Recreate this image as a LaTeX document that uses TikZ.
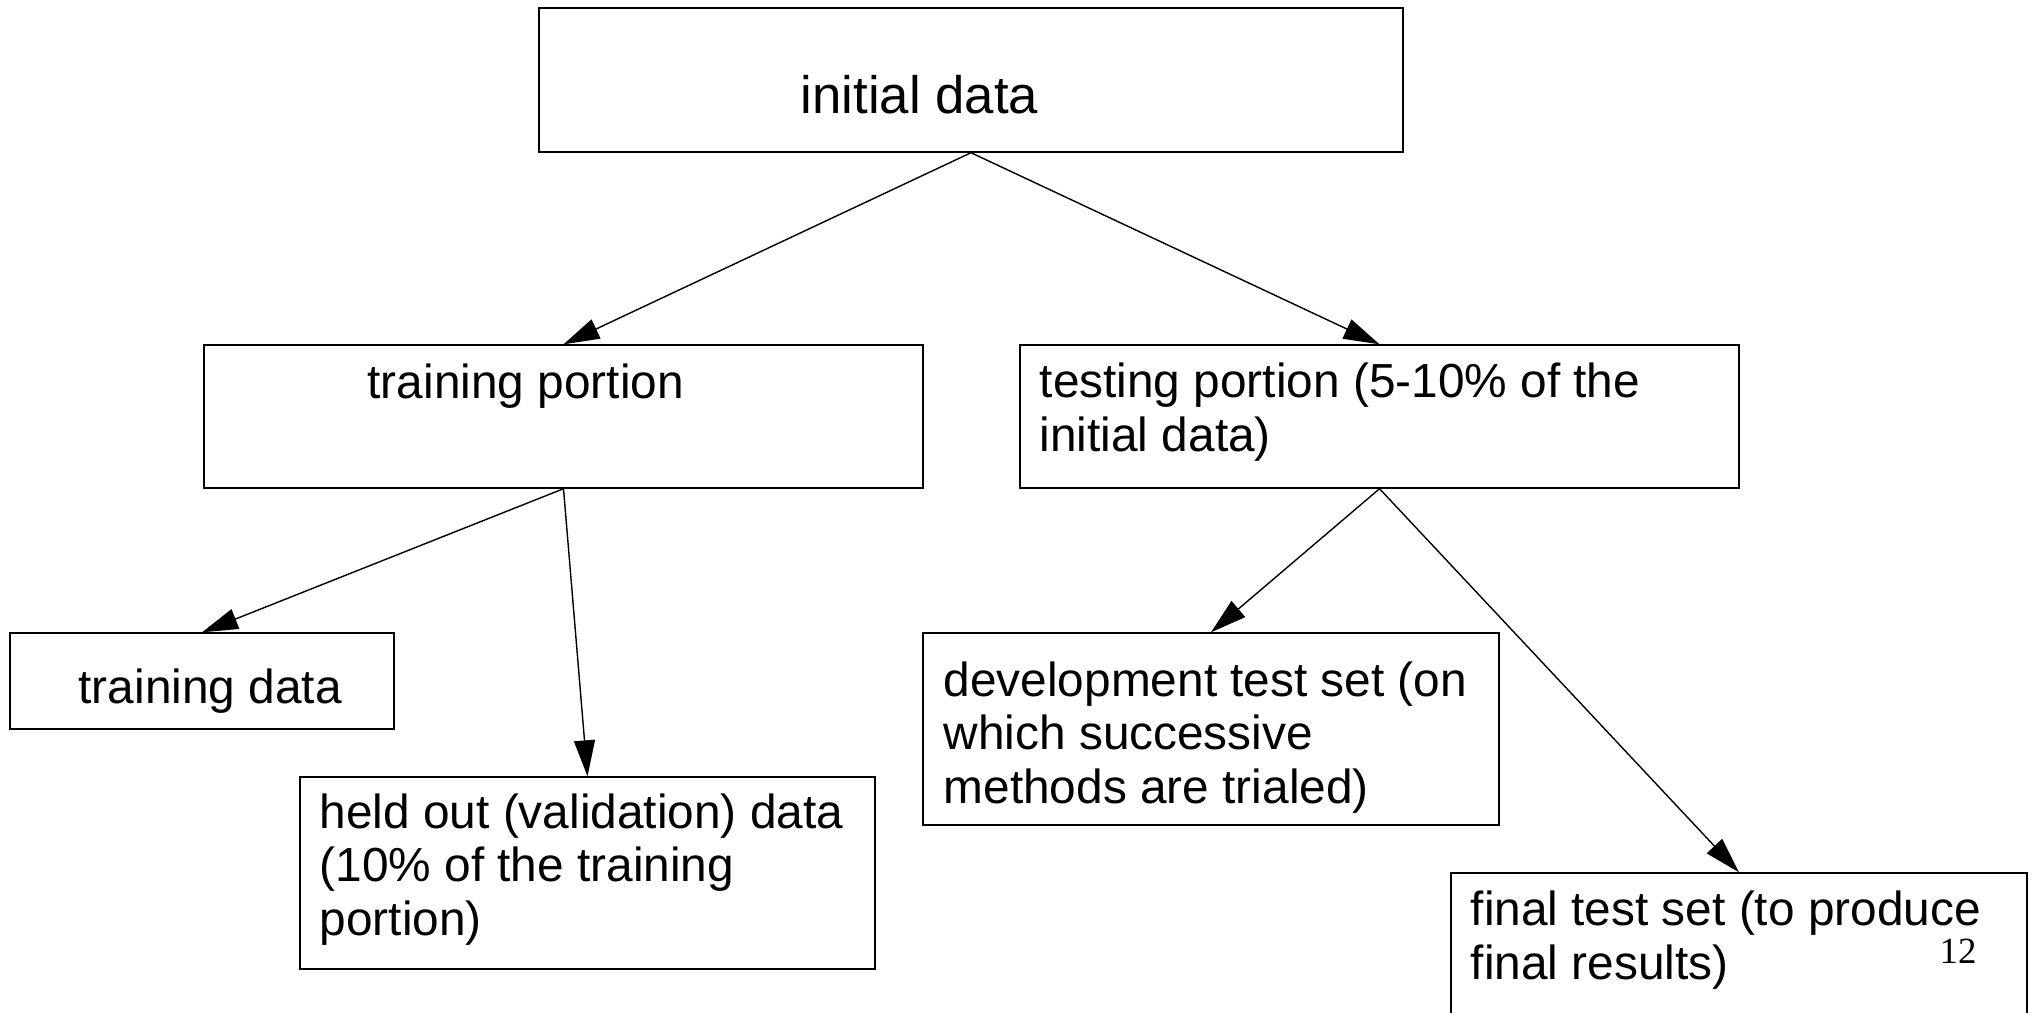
\documentclass[tikz,border=0pt]{standalone}
\usepackage{fontspec}
\setmainfont{Liberation Sans}
\newfontfamily\pagenumfont{Liberation Serif}
\usetikzlibrary{arrows.meta}

\tikzset{
  box/.style={draw, inner sep=0pt, line width=0.4pt},
  txt/.style={anchor=base west, inner sep=0pt, align=left,
    font=\fontsize{13.6}{15.1}\selectfont},
}

\begin{document}
\begin{tikzpicture}[>={Triangle[length=0.36cm, width=0.21cm]}]
    \useasboundingbox (0,0) rectangle (20.33,-10.12);
    \clip (0,0) rectangle (20.33,-10.12);

    % boxes
    \node[box, minimum width=8.64cm, minimum height=1.44cm] (init) at (9.71,-0.80) {};
    \node[box, minimum width=7.19cm, minimum height=1.43cm] (trainp) at (5.635,-4.165) {};
    \node[box, minimum width=7.19cm, minimum height=1.43cm] (testp) at (13.795,-4.165) {};
    \node[box, minimum width=3.84cm, minimum height=0.96cm] (traind) at (2.02,-6.81) {};
    \node[box, minimum width=5.75cm, minimum height=1.92cm] (held) at (5.875,-8.73) {};
    \node[box, minimum width=5.76cm, minimum height=1.92cm] (dev) at (12.11,-7.29) {};
    \node[box, minimum width=5.76cm, minimum height=1.92cm] (final) at (17.39,-9.69) {};

    % texts (base = last line)
    \node[txt, font=\fontsize{15}{17}\selectfont] (init-lbl) at (8.00,-1.13) {initial data};
    \node[txt] (trainp-lbl) at (3.67,-3.98) {training portion};
    \node[txt] (testp-lbl) at (10.39,-4.51) {testing portion (5-10\% of the\\initial data)};
    \node[txt] (traind-lbl) at (0.78,-7.03) {training data};
    \node[txt] (held-lbl) at (3.19,-9.35) {held out (validation) data\\(10\% of the training\\portion)};
    \node[txt] (dev-lbl) at (9.43,-8.03) {development test set (on\\which successive\\methods are trialed)};
    \node[txt] (final-lbl) at (14.70,-9.79) {final test set (to produce\\final results)};
    \node[txt, font=\pagenumfont\fontsize{10.5}{13}\selectfont] (pagenum) at (19.39,-9.63) {12};

    \draw[->] (init.south) -- (trainp.north);
    \draw[->] (init.south) -- (testp.north);
    \draw[->] (trainp.south) -- (traind.north);
    \draw[->] (trainp.south) -- (held.north);
    \draw[->] (testp.south) -- (dev.north);
    \draw[->] (testp.south) -- (final.north);
\end{tikzpicture}
\end{document}
